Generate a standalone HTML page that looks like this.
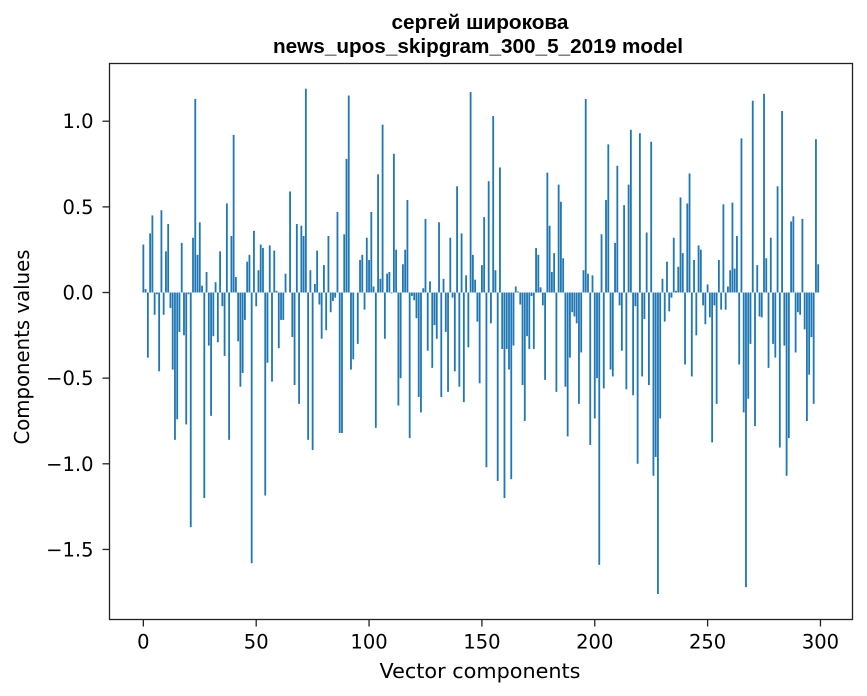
<!DOCTYPE html>
<html><head><meta charset="utf-8"><style>
body{margin:0;background:#fff;}
svg{display:block;font-family:"DejaVu Sans","Liberation Sans",sans-serif;}
</style></head><body>
<svg id="chart" width="867" height="696">
<text x="480" y="29" text-anchor="middle" font-size="20" font-weight="bold" font-family="Liberation Sans, sans-serif" textLength="177" lengthAdjust="spacingAndGlyphs">сергей широкова</text>
<text x="478" y="53" text-anchor="middle" font-size="20" font-weight="bold" font-family="Liberation Sans, sans-serif" textLength="410" lengthAdjust="spacingAndGlyphs">news_upos_skipgram_300_5_2019 model</text>
<g id="bars"></g>
<g id="xticks"></g>
<g id="yticks"></g>
<rect x="109.5" y="63.5" width="743" height="556" fill="none" stroke="#222" stroke-width="1.3"/>
<text x="480" y="678" text-anchor="middle" font-size="20" textLength="201" lengthAdjust="spacingAndGlyphs">Vector components</text>
<text x="29" y="347" text-anchor="middle" font-size="20" textLength="195" lengthAdjust="spacingAndGlyphs" transform="rotate(-90 29 347)">Components values</text>
</svg>
<script>
const values = [
0.28,0.02,-0.38,0.345,0.45,-0.13,-0.01,-0.46,0.48,-0.13,
0.24,0.40,-0.09,-0.45,-0.86,-0.74,-0.23,0.29,-0.25,-0.77,
-0.01,-1.37,0.32,1.13,0.22,0.41,0.04,-1.2,0.12,-0.31,
-0.72,-0.255,0.06,-0.29,0.24,-0.08,-0.37,0.52,-0.86,0.33,
0.92,0.09,-0.285,-0.55,-0.47,-0.16,0.18,0.22,-1.58,0.36,
-0.08,0.13,0.28,0.26,-1.185,-0.41,0.275,-0.52,0.245,0.01,
-0.325,-0.16,-0.16,0.11,0,0.59,-0.26,-0.54,0.40,-0.65,
0.39,0.33,1.19,-0.86,0.13,-0.92,0.05,0.245,-0.07,-0.27,
0.16,-0.22,0.33,-0.115,-0.05,-0.03,0.47,-0.82,-0.82,0.34,
0.78,1.15,-0.45,-0.39,0,-0.30,0.19,0.22,-0.10,0.32,
0.19,0.47,0.035,-0.79,0.69,0.08,0.98,-0.27,0.11,0.12,
-0.005,0.81,0.25,-0.66,-0.50,0.165,0.25,0.54,-0.85,-0.02,
-0.045,-0.15,-0.61,-0.70,0.025,0.43,-0.34,0.065,-0.44,-0.19,
-0.27,0.41,-0.61,0.08,-0.23,-0.58,0.32,-0.03,-0.46,0.62,
-0.55,0.345,-0.64,0.10,-0.32,1.17,0.22,0.075,-0.17,-0.53,
0.16,0.44,-1.02,0.65,-0.18,1.03,0.13,-1.10,0.73,-0.33,
-1.20,-0.33,-0.45,-1.09,-0.31,0.035,0.006,-0.07,-0.54,-0.75,
-0.255,-0.33,-0.02,-0.33,0.26,0.22,0.03,-0.075,-0.51,0.70,
0.39,0.12,0.23,-0.58,0.63,0.53,0.20,-0.55,-0.84,-0.38,
-0.115,-0.14,-0.18,-0.65,-0.35,0.13,1.13,0.11,-0.89,0.10,
-0.735,-0.50,-1.59,0.34,-0.56,0.54,0.865,-0.45,-0.49,0.29,
0.74,-0.075,-0.34,0.51,-0.565,0.63,0.95,-0.60,-0.08,-1.00,
0.93,-0.49,-0.155,0.35,-0.54,0.88,-1.07,-0.96,-1.76,-0.735,
0.08,-0.17,0.18,-0.11,-0.03,0.32,0.01,0.15,0.555,0.23,
-0.42,0.52,0.695,-0.49,0.19,-0.25,0.275,0.25,-0.075,-0.185,
0.047,-0.145,-0.875,-0.075,-0.65,0.19,-0.10,0.515,-0.10,0.035,
0.13,0.525,0.14,0.33,-0.42,0.90,-0.70,-1.72,-0.62,-0.30,
1.12,-0.78,0.16,-0.14,-0.145,1.16,0.20,-0.44,0.32,-0.30,
-0.38,0.62,-0.905,1.06,-0.31,-1.07,-0.85,0.415,0.445,-0.35,
-0.115,-0.13,0.43,-0.215,-0.75,-0.48,-0.26,-0.65,0.895,0.165
];
const xTickValues = [0,50,100,150,200,250,300];
const yTickValues = [-1.5,-1.0,-0.5,0.0,0.5,1.0];

const NS="http://www.w3.org/2000/svg";
const X0=109.5,X1=852.5,Y0=63.5,Y1=619.5;
const xMin=-15.0,xMax=314.2,yMin=-1.909,yMax=1.337;
function sx(v){return X0+(v-xMin)/(xMax-xMin)*(X1-X0);}
function sy(v){return Y1-(v-yMin)/(yMax-yMin)*(Y1-Y0);}
function fmt(v){const s=v.toFixed(1);return v<0?"\u2212"+s.slice(1):s;}

const gb=document.getElementById('bars');
values.forEach((v,i)=>{
  const r=document.createElementNS(NS,'rect');
  const xa=sx(i-0.4),xb=sx(i+0.4);
  const ya=sy(Math.max(v,0)),yb=sy(Math.min(v,0));
  r.setAttribute('x',xa);r.setAttribute('width',xb-xa);
  r.setAttribute('y',ya);r.setAttribute('height',Math.max(yb-ya,0));
  r.setAttribute('fill','#1f77b4');
  
  
  gb.appendChild(r);
});
const gx=document.getElementById('xticks');
xTickValues.forEach(t=>{
  const x=sx(t);
  const l=document.createElementNS(NS,'line');
  l.setAttribute('x1',x);l.setAttribute('x2',x);l.setAttribute('y1',Y1);l.setAttribute('y2',Y1+7);
  l.setAttribute('stroke','#222');l.setAttribute('stroke-width','1.3');
  
  
  gx.appendChild(l);
  const tx=document.createElementNS(NS,'text');
  tx.setAttribute('x',x);tx.setAttribute('y',Y1+29);tx.setAttribute('text-anchor','middle');tx.setAttribute('font-size','19.5');
  tx.textContent=t;
  
  
  gx.appendChild(tx);
});
const gy=document.getElementById('yticks');
yTickValues.forEach(t=>{
  const y=sy(t);
  const l=document.createElementNS(NS,'line');
  l.setAttribute('x1',X0-7);l.setAttribute('x2',X0);l.setAttribute('y1',y);l.setAttribute('y2',y);
  l.setAttribute('stroke','#222');l.setAttribute('stroke-width','1.3');
  
  
  gy.appendChild(l);
  const tx=document.createElementNS(NS,'text');
  tx.setAttribute('x',X0-16);tx.setAttribute('y',y+7);tx.setAttribute('text-anchor','end');tx.setAttribute('font-size','19.5');
  tx.textContent=fmt(t);
  
  
  gy.appendChild(tx);
});
</script>
</body></html>
